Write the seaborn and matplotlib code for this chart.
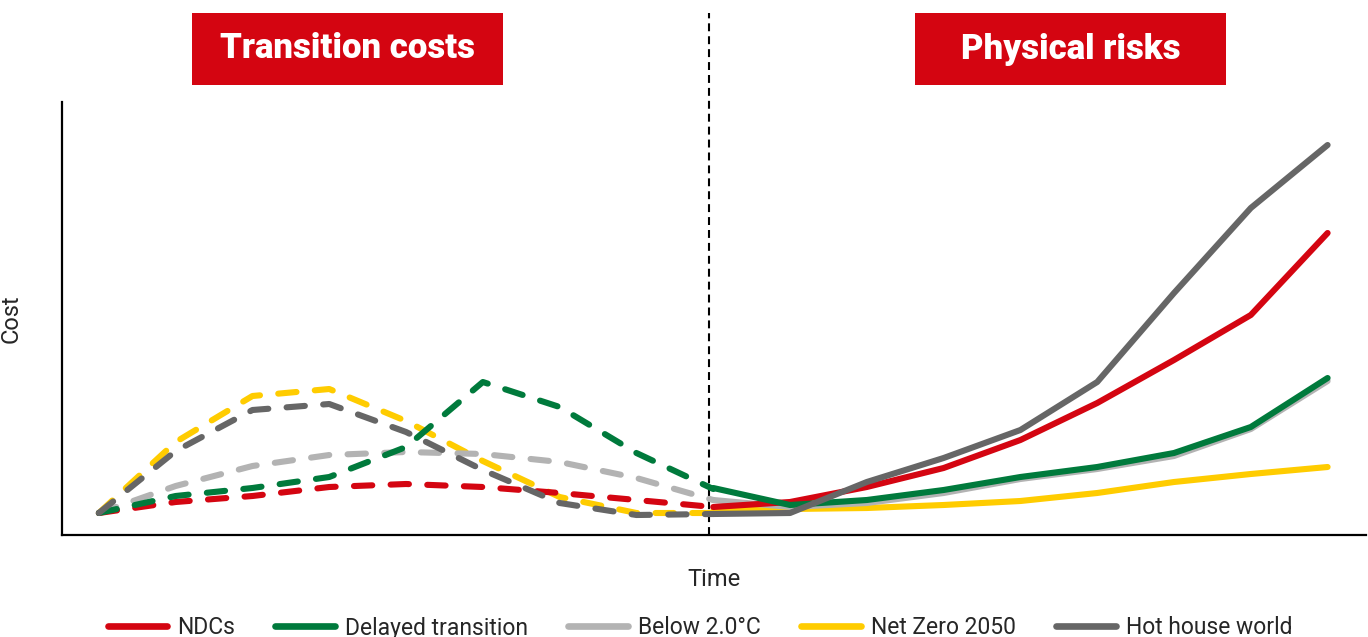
import numpy as np
import pandas as pd
import matplotlib
matplotlib.use("Agg")
import matplotlib.pyplot as plt
from matplotlib.lines import Line2D
from matplotlib.patches import Rectangle
import seaborn as sns

# ---------------- data ----------------
scenarios = ["NDCs", "Delayed transition", "Below 2.0\u00b0C", "Net Zero 2050", "Hot house world"]
colors = ["#D40511", "#007A3C", "#B3B3B3", "#FFCC00", "#666666"]

transition_time = [0, 1, 2, 3, 4, 5, 6, 7, 8]
physical_time = [8, 9, 10, 11, 12, 13, 14, 15, 16]

ndc_transition = [22, 33, 39, 48, 51, 48, 42, 35, 28]
delayed_transition = [22, 39, 47, 58, 88, 153, 128, 82, 46]
below2_transition = [22, 49, 69, 80, 83, 81, 73, 57, 35]
netzero_transition = [22, 93, 139, 146, 114, 74, 38, 22, 22]
hothouse_transition = [22, 84, 125, 131, 103, 65, 32, 20, 21]

ndc_physical = [28, 33, 48, 67, 95, 132, 175, 220, 302]
delayed_physical = [47, 30, 35, 45, 58, 68, 82, 108, 157]
below2_physical = [35, 28, 32, 42, 56, 66, 79, 106, 154]
netzero_physical = [24, 26, 27, 30, 34, 42, 53, 61, 68]
hothouse_physical = [21, 22, 53, 77, 105, 153, 242, 327, 390]

panel_titles = ["Transition costs", "Physical risks"]

transition_series = [ndc_transition, delayed_transition, below2_transition,
                     netzero_transition, hothouse_transition]
physical_series = [ndc_physical, delayed_physical, below2_physical,
                   netzero_physical, hothouse_physical]

rows = []
for name, tv, pv in zip(scenarios, transition_series, physical_series):
    for t, v in zip(transition_time, tv):
        rows.append((t, v, name, panel_titles[0]))
    for t, v in zip(physical_time, pv):
        rows.append((t, v, name, panel_titles[1]))
df = pd.DataFrame(rows, columns=["Time", "Cost", "Scenario", "Phase"])

palette = dict(zip(scenarios, colors))
draw_order = ["Net Zero 2050", "Below 2.0\u00b0C", "NDCs", "Delayed transition", "Hot house world"]

# ---------------- figure ----------------
sns.set_style("white")
plt.rcParams["font.family"] = ["Roboto", "DejaVu Sans"]

W, H = 1368, 637
fig = plt.figure(figsize=(W / 100, H / 100), dpi=100)
ax = fig.add_axes([62 / W, (H - 535) / H, (1366 - 62) / W, (535 - 102) / H])

LW = 4.4
DASH = (3.0, 3.0)
sns.lineplot(data=df, x="Time", y="Cost", hue="Scenario", style="Phase",
             hue_order=draw_order, style_order=panel_titles,
             dashes={panel_titles[0]: DASH, panel_titles[1]: ""},
             palette=palette, linewidth=LW, estimator=None, legend=False,
             ax=ax, solid_capstyle="round", dash_capstyle="round",
             solid_joinstyle="round", dash_joinstyle="round")

ax.set_xlim(-0.48, 16.5)
ax.set_ylim(0, 433)
ax.set_xticks([])
ax.set_yticks([])
for s in ["top", "right"]:
    ax.spines[s].set_visible(False)
for s in ["left", "bottom"]:
    ax.spines[s].set_color("black")
    ax.spines[s].set_linewidth(1.6)

ax.set_xlabel("Time", fontsize=17, labelpad=24)
ax.set_ylabel("Cost", fontsize=17, labelpad=28)

# vertical divider
ax.axvline(7.95, ymin=0, ymax=(535 - 13) / 433, color="black", lw=1.5,
           ls=(0, (3.8, 2.4)), clip_on=False, zorder=0.5)

# title boxes
for x0, label in zip([192, 915], panel_titles):
    fig.patches.append(Rectangle((x0 / W, (H - 85) / H), 311 / W, 72 / H,
                                 transform=fig.transFigure, facecolor="#D40511",
                                 edgecolor="none"))
    fig.text((x0 + 155.5) / W, (H - 49) / H, label, color="white",
             fontsize=25, fontweight="black", ha="center", va="center")

# legend
handles = [Line2D([], [], color=c, lw=4.8, solid_capstyle="round") for c in colors]
fig.legend(handles, scenarios, loc="center", bbox_to_anchor=(700 / W, 9 / H),
           ncol=5, frameon=False, fontsize=16.5, handlelength=2.6,
           handletextpad=0.45, columnspacing=1.75, borderaxespad=0)

fig.savefig("out.png", dpi=100)
